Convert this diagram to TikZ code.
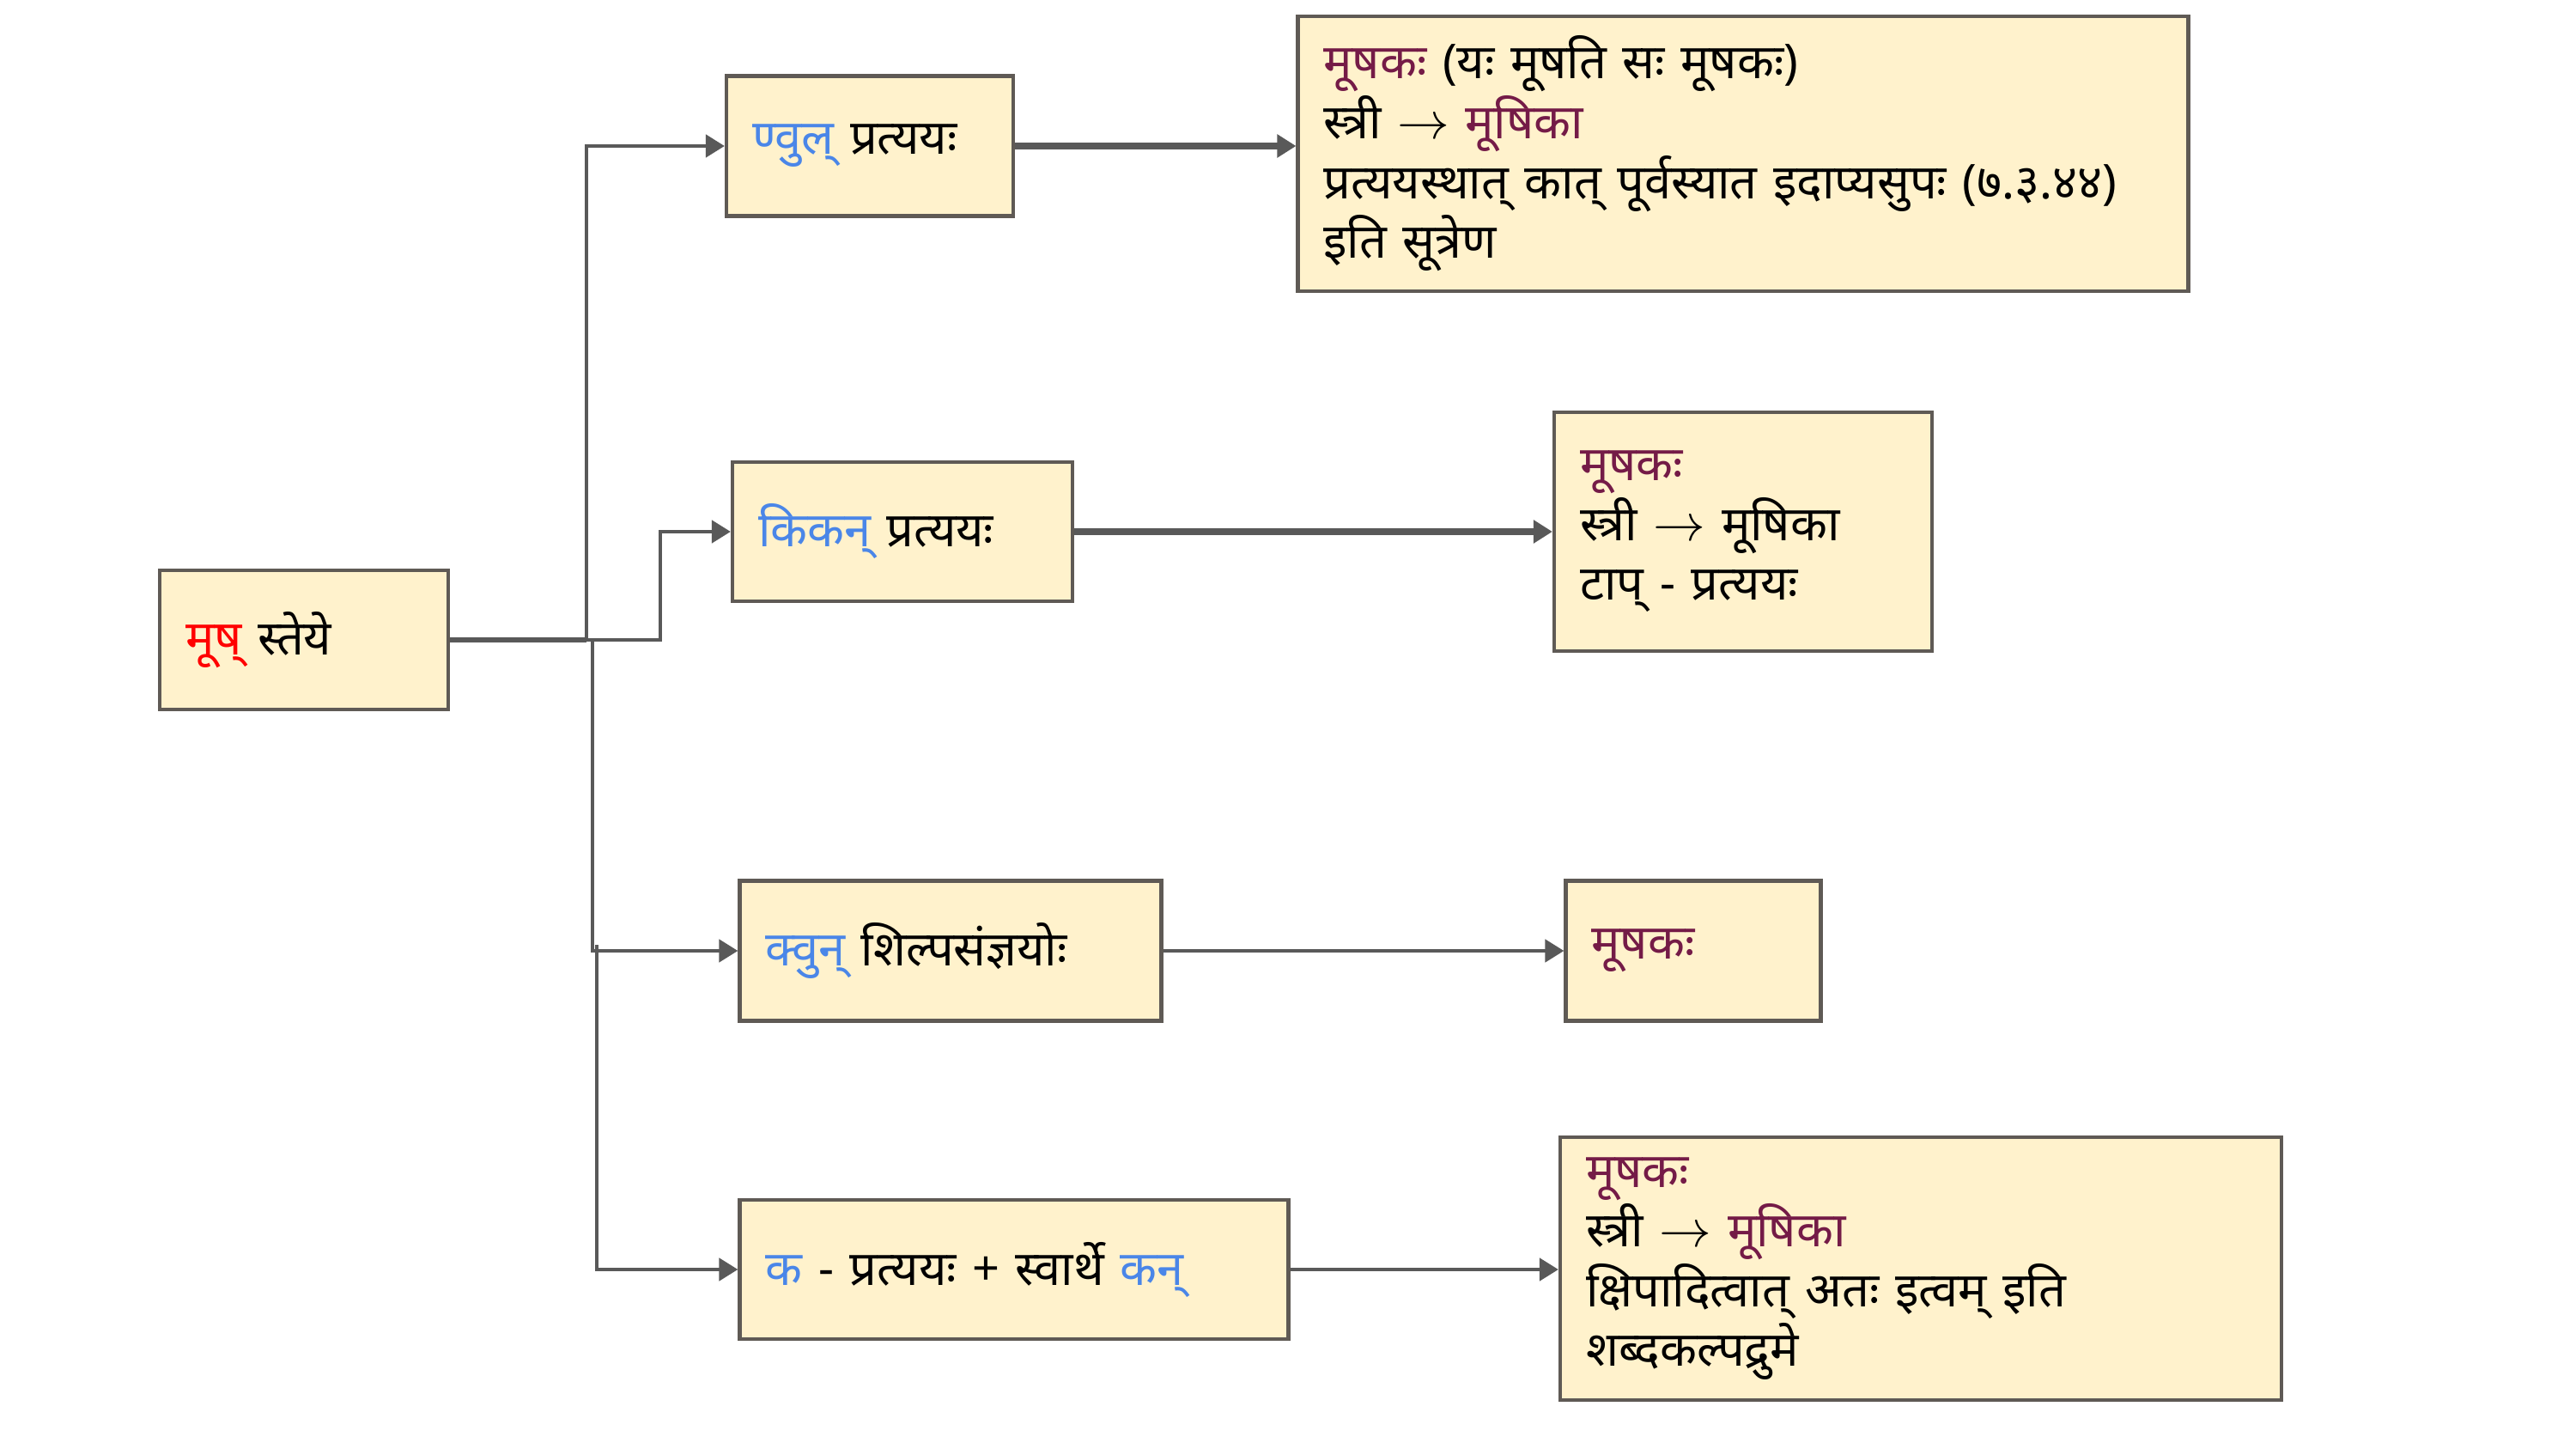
\documentclass[tikz,border=0pt]{standalone}
\usepackage{fontspec}
\newfontfamily\deva[Script=Devanagari]{Noto Sans}
\usetikzlibrary{arrows.meta}
\usetikzlibrary{positioning}
\definecolor{boxfill}{HTML}{FFF2CC}
\definecolor{boxline}{HTML}{5F5A55}
\definecolor{linkgray}{HTML}{595959}
\definecolor{pblue}{HTML}{4A86E8}
\definecolor{droot}{HTML}{FF0000}
\definecolor{shabda}{HTML}{741B47}
\tikzset{box/.style={draw=boxline,fill=boxfill,line width=1.2pt,inner xsep=0.3cm,align=left,font=\deva\fontsize{15.9}{19.8}\selectfont},
	link/.style={draw=linkgray,line width=1.3pt,-{Triangle[length=0.22cm,width=0.26cm]}},
	trunk/.style={draw=linkgray,line width=1.6pt}}
\begin{document}
\begin{tikzpicture}
				\useasboundingbox (0,0) rectangle (30,-16.87);
				\node[box,text width=2.76cm,minimum height=1.62cm] (root) at (3.54,-7.45) {\textcolor{droot}{मूष्} स्तेये};
				\node[box,text width=2.74cm,minimum height=1.63cm] (nvul) at (10.13,-1.70) {\textcolor{pblue}{ण्वुल्} प्रत्ययः};
				\node[box,text width=3.36cm,minimum height=1.62cm] (kikan) at (10.51,-6.19) {\textcolor{pblue}{किकन्} प्रत्ययः};
				\node[box,text width=4.31cm,minimum height=1.63cm] (kvun) at (11.07,-11.07) {\textcolor{pblue}{क्वुन्} शिल्पसंज्ञयोः};
				\node[box,text width=5.79cm,minimum height=1.62cm] (ka) at (11.81,-14.78) {\textcolor{pblue}{क} - प्रत्ययः + स्वार्थे \textcolor{pblue}{कन्}};
				\node[box,text width=9.77cm,minimum height=3.20cm] (resA) at (20.30,-1.79) {\textcolor{shabda}{मूषकः} (यः मूषति सः मूषकः)\\ स्त्री $\rightarrow$ \textcolor{shabda}{मूषिका}\\ प्रत्ययस्थात् कात् पूर्वस्यात इदाप्यसुपः (७.३.४४)\\ इति सूत्रेण};
				\node[box,text width=3.80cm,minimum height=2.78cm] (resB) at (20.30,-6.19) {\textcolor{shabda}{मूषकः}\\ स्त्री $\rightarrow$ मूषिका\\ टाप् - प्रत्ययः};
				\node[box,text width=2.37cm,minimum height=1.63cm] (resC) at (19.72,-11.07) {\textcolor{shabda}{मूषकः}};
				\node[box,text width=7.80cm,minimum height=3.06cm] (resD) at (22.37,-14.77) {\textcolor{shabda}{मूषकः}\\ स्त्री $\rightarrow$ \textcolor{shabda}{मूषिका}\\ क्षिपादित्वात् अतः इत्वम् इति\\ शब्दकल्पद्रुमे};
				\coordinate (hub) at (6.83,-7.45); \coordinate (hubB) at (6.90,-7.45); \coordinate (hubC) at (6.95,-11.00);
				\draw[trunk] (root.east) -- (hub); \draw[link] (hub) |- (nvul.west);
				\draw[link] (hub) -- ++(0.86,0) |- (kikan.west);
				\draw[link] (hubB) |- (kvun.west); \draw[link] (hubC) |- (ka.west);
				\draw[link,line width=2pt] (nvul.east) -- (nvul.east -| resA.west); \draw[link,line width=2pt] (kikan.east) -- (kikan.east -| resB.west);
				\draw[link] (kvun.east) -- (kvun.east -| resC.west); \draw[link] (ka.east) -- (ka.east -| resD.west);
			\end{tikzpicture}
\end{document}
